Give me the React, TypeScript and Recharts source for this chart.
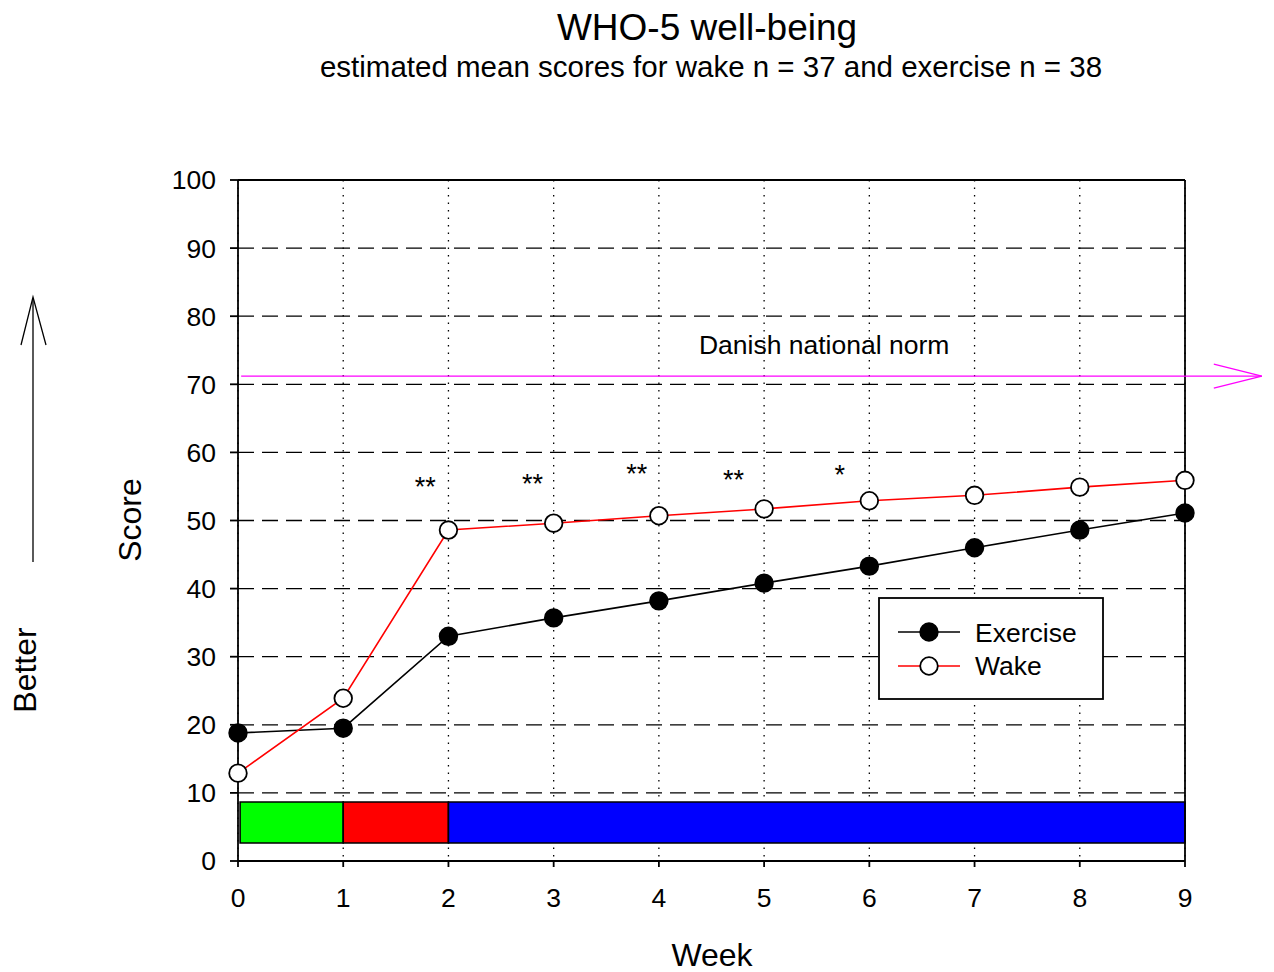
import { ComposedChart, Line, XAxis, YAxis, CartesianGrid, ReferenceLine, ReferenceArea, ReferenceDot, Customized } from "recharts"

const FONT = "'Liberation Sans', Arial, Helvetica, sans-serif"

const weeks = [0, 1, 2, 3, 4, 5, 6, 7, 8, 9]
const exercise = [18.8, 19.5, 33.0, 35.7, 38.2, 40.8, 43.3, 46.0, 48.6, 51.1]
const wake = [12.9, 23.9, 48.6, 49.6, 50.7, 51.7, 52.9, 53.7, 54.9, 55.9]
const yTicks = [0, 10, 20, 30, 40, 50, 60, 70, 80, 90, 100]

// Danish national norm (arrow running past the right edge)
const norm = 71.2
const normFrom = 0.03
const normTo = 9.73
const normLabel = { x: 5.57, y: 74.4, text: "Danish national norm" }

// significance stars between visits
const starX = [1.78, 2.8, 3.79, 4.71, 5.72]
const starY = [55.8, 56.2, 57.7, 56.8, 57.6]
const starText = ["**", "**", "**", "**", "*"]

// phase bar along the bottom
const phaseFrom = [0.02, 1, 2]
const phaseTo = [1, 2, 9]
const phaseColor = ["#00ff00", "#ff0000", "#0000ff"]
const phaseLow = 2.64
const phaseHigh = 8.66

const data = weeks.map((w, i) => ({ week: w, exercise: exercise[i], wake: wake[i] }))

const NormArrow = (p: any) => {
    const { x1, y1, x2, y2 } = p
    return (
        <g>
            <line x1={x1} y1={y1} x2={x2} y2={y2} stroke="#ff00ff" strokeWidth={1.3} />
            <polyline points={`${x2 - 48},${y2 - 12} ${x2},${y2} ${x2 - 48},${y2 + 12}`} fill="none" stroke="#ff00ff" strokeWidth={1.3} />
        </g>
    )
}

const Decor = () => (
    <g fontFamily={FONT} fill="#000">
        <text x={707} y={40} textAnchor="middle" fontSize={37}>WHO-5 well-being</text>
        <text x={711} y={77} textAnchor="middle" fontSize={29.5}>estimated mean scores for wake n = 37 and exercise n = 38</text>
        <text x={712} y={966} textAnchor="middle" fontSize={32}>Week</text>
        <text transform="translate(141,520) rotate(-90)" textAnchor="middle" fontSize={32}>Score</text>
        <text transform="translate(36,670) rotate(-90)" textAnchor="middle" fontSize={32}>Better</text>
        <line x1={33} y1={562} x2={33} y2={298} stroke="#000" strokeWidth={1.3} />
        <polyline points="21,345 33,297 46,345" fill="none" stroke="#000" strokeWidth={1.3} />
        {/* legend */}
        <rect x={879} y={598} width={224} height={101} fill="#fff" stroke="#000" strokeWidth={1.8} />
        <line x1={898} y1={632} x2={960} y2={632} stroke="#000" strokeWidth={1.6} />
        <circle cx={929} cy={632} r={8.8} fill="#000" stroke="#000" strokeWidth={1.8} />
        <text x={975} y={642} fontSize={26.5}>Exercise</text>
        <line x1={898} y1={666} x2={960} y2={666} stroke="#ff0000" strokeWidth={1.6} />
        <circle cx={929} cy={666} r={8.8} fill="#fff" stroke="#000" strokeWidth={1.8} />
        <text x={975} y={675} fontSize={26.5}>Wake</text>
    </g>
)

export default function App() {
    return (
        <div style={{ position: "absolute", left: 0, top: 0, width: 1274, height: 972, background: "#fff" }}>
            <ComposedChart width={1274} height={972} data={data}
                margin={{ top: 180, right: 89, bottom: 81, left: 158 }}>
                <CartesianGrid vertical={false} stroke="#000" strokeWidth={1.3} strokeDasharray="16 8" />
                <CartesianGrid horizontal={false} stroke="#000" strokeWidth={1.3} strokeDasharray="1.5 6" />
                <XAxis dataKey="week" type="number" domain={[0, 9]} ticks={weeks} interval={0} height={30}
                    stroke="#000" strokeWidth={1.8} tickSize={6} tickMargin={21}
                    tick={{ fill: "#000", fontSize: 26.5, fontFamily: FONT }} />
                <YAxis type="number" domain={[0, 100]} ticks={yTicks} interval={0} width={80}
                    stroke="#000" strokeWidth={1.8} tickSize={8} tickMargin={14}
                    tick={{ fill: "#000", fontSize: 26.5, fontFamily: FONT }} />
                <ReferenceLine y={100} stroke="#000" strokeWidth={1.8} />
                <ReferenceLine x={9} stroke="#000" strokeWidth={1.8} />
                {phaseFrom.map((f, i) => (
                    <ReferenceArea key={i} x1={f} x2={phaseTo[i]} y1={phaseLow} y2={phaseHigh}
                        fill={phaseColor[i]} fillOpacity={1} stroke="#000" strokeWidth={1.6} />
                ))}
                <ReferenceLine segment={[{ x: normFrom, y: norm }, { x: normTo, y: norm }]}
                    ifOverflow="visible" shape={NormArrow} />
                <ReferenceDot x={normLabel.x} y={normLabel.y} r={0} ifOverflow="visible"
                    shape={(p: any) => (
                        <text x={p.cx} y={p.cy} textAnchor="middle" fontSize={26.5} fontFamily={FONT} fill="#000">{normLabel.text}</text>
                    )} />
                {starX.map((x, i) => (
                    <ReferenceDot key={i} x={x} y={starY[i]} r={0}
                        shape={(p: any) => (
                            <text x={p.cx} y={p.cy} dy={15} textAnchor="middle" fontSize={27} fontFamily={FONT} fill="#000">{starText[i]}</text>
                        )} />
                ))}
                <Line dataKey="exercise" type="linear" stroke="#000" strokeWidth={1.6} isAnimationActive={false}
                    dot={{ r: 8.8, fill: "#000", stroke: "#000", strokeWidth: 1.8 }} />
                <Line dataKey="wake" type="linear" stroke="#ff0000" strokeWidth={1.6} isAnimationActive={false}
                    dot={{ r: 8.8, fill: "#fff", stroke: "#000", strokeWidth: 1.8 }} />
                <Customized component={Decor} />
            </ComposedChart>
        </div>
    )
}
